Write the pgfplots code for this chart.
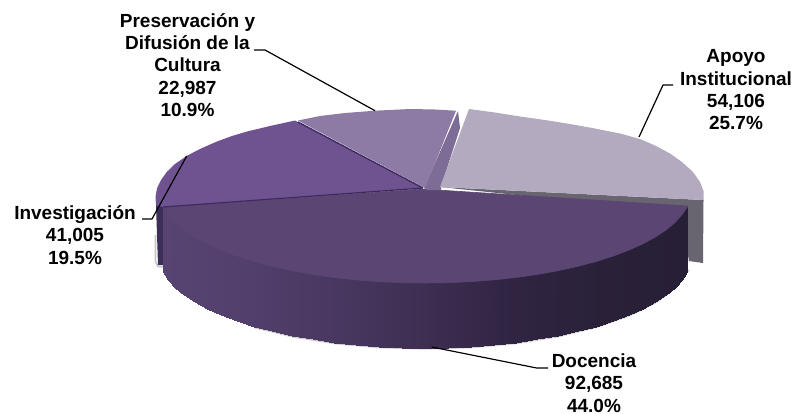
\documentclass[border=0pt]{standalone}
\usepackage{fontspec}
\setmainfont{Liberation Sans}
\usepackage{pgfplots}
\pgfplotsset{compat=1.18}
\definecolor{cDoc}{RGB}{91,70,115}
\definecolor{cInv}{RGB}{111,83,145}
\definecolor{cPre}{RGB}{141,122,165}
\definecolor{cApo}{RGB}{179,170,192}
\definecolor{cGray}{RGB}{104,100,112}
\definecolor{cWallP}{RGB}{125,108,150}
\definecolor{cWallI}{RGB}{60,46,88}
\definecolor{cEdge}{RGB}{62,42,94}
\begin{document}
\begin{tikzpicture}
\begin{axis}[
  at={(0,0)},anchor=south west,
  scale only axis,width=794pt,height=413pt,
  xmin=0,xmax=794,ymin=0,ymax=413,y dir=reverse,
  hide axis,clip=false,
  colormap={sidemap}{rgb255=(88,68,114) rgb255=(82,63,108) rgb255=(72,55,96) rgb255=(62,46,82) rgb255=(48,36,66) rgb255=(42,33,57) rgb255=(39,31,53)},
  point meta min=163,point meta max=687,
  every axis plot/.append style={line join=round}
]
% soft shadows
\addplot[black!22,line width=1.6pt] coordinates {(155.5,235)(155.5,262)(158,266.5)(165,267)};
\addplot[black!20,line width=1.4pt] coordinates {(254,327.5)(292,336.7)(334,343.5)(378.8,347.6)(425,349)(471.2,347.6)(516,343.5)(558,336.7)(596,327.5)(628.8,316.1)(655.4,303)(675,288.5)(689,270)};
% Apoyo walls
\addplot[draw=none,fill=cGray] coordinates {(440,187)(703.5,200)(703,263)(689,261)(680,212)} -- cycle;
% Investigacion wall
\addplot[draw=none,fill=cWallI] coordinates {(156,205)(165,207)(165,265)(158,265)} -- cycle;
% Docencia side
\addplot[surf,shader=interp,mesh/rows=2,point meta=x] table {
x y
163 207
168.1 213.8
175 220.5
183.9 226.9
194.6 233
207.1 239.8
221.2 246.1
236.9 252.1
254 257.5
272.4 262.4
292 266.7
312.6 270.4
334 273.5
356.2 275.9
378.8 277.6
401.8 278.7
425 279
448.2 278.7
471.2 277.6
493.8 275.9
516 273.5
537.4 270.4
558 266.7
577.6 262.4
596 257.5
613.1 252.1
628.8 246.1
642.9 239.8
655.4 233
666.1 226.9
675 220.5
681.9 213.8
687 207
163 272
168.1 279.8
175 287.5
183.9 294.9
194.6 302
207.1 308.8
221.2 315.1
236.9 321.1
254 326.5
272.4 331.4
292 335.7
312.6 339.4
334 342.5
356.2 344.9
378.8 346.6
401.8 347.7
425 348
448.2 347.7
471.2 346.6
493.8 344.9
516 342.5
537.4 339.4
558 335.7
577.6 331.4
596 326.5
613.1 321.1
628.8 315.1
642.9 308.8
655.4 302
666.1 294.9
675 287.5
681.9 279.8
687 272
};
% Docencia top
\addplot[draw=cDoc,line width=0.6pt,fill=cDoc] coordinates {(163,207)(422,189)(688,206)(681.9,214.8)(675,222.5)(666.1,229.9)(655.4,237)(642.9,243.8)(628.8,250.1)(613.1,256.1)(596,261.5)(577.6,266.4)(558,270.7)(537.4,274.4)(516,277.5)(493.8,279.9)(471.2,281.6)(448.2,282.7)(425,283)(401.8,282.7)(378.8,281.6)(356.2,279.9)(334,277.5)(312.6,274.4)(292,270.7)(272.4,266.4)(254,261.5)(236.9,256.1)(221.2,250.1)(207.1,243.8)(194.6,237)(183.9,229.9)(175,222.5)(168.1,214.8)} -- cycle;
% Investigacion top
\addplot[draw=none,fill=cInv] coordinates {(423,188)(295,120.5)(270,126)(247,131.5)(232,136)(217,141.5)(201,148.5)(187,155.7)(175,164)(167,171.7)(161,180)(157,188.3)(155.5,197)(156,205)(163,207)} -- cycle;
\addplot[cEdge,line width=1.2pt] coordinates {(163,207)(423,188)};
% Preservacion wall and top
\addplot[draw=none,fill=cWallP] coordinates {(458,111)(460,128)(441,187)(441,190)(427,190)(424,188)} -- cycle;
\addplot[draw=none,fill=cPre] coordinates {(425,188)(298,120.5)(320,116)(345,113)(375,110.7)(410,109)(435,109.5)(456,110.7)} -- cycle;
\addplot[cEdge,line width=1.4pt] coordinates {(423,188)(298,122)};
% Apoyo top
\addplot[draw=none,fill=cApo] coordinates {(440,187)(469,109)(495,112.5)(520,116.5)(545,120)(570,124)(595,128.5)(620,133.5)(640,139)(655,145.5)(670,153.5)(682,162)(693,172)(700,182)(703.5,191)(703.5,200)} -- cycle;
% Leaders
\addplot[black,line width=1.2pt] coordinates {(254,50)(265,50)(375,110.7)};
\addplot[black,line width=1.2pt] coordinates {(673,85)(663,85)(639,137)};
\addplot[black,line width=1.2pt] coordinates {(142,219)(152,219)(186.7,156)};
\addplot[black,line width=1.2pt] coordinates {(431.7,347)(536.7,368)(548,368)};
\tikzset{lab/.style={align=center,font=\fontsize{19}{22.3}\selectfont\bfseries,inner sep=0pt}}
\node[lab] at (axis cs:187.5,65) {Preservación y\\Difusión de la\\Cultura\\22,987\\10.9\%};
\node[lab] at (axis cs:736,90) {Apoyo\\Institucional\\54,106\\25.7\%};
\node[lab] at (axis cs:75,235) {Investigación\\41,005\\19.5\%};
\node[lab] at (axis cs:594,383) {Docencia\\92,685\\44.0\%};
\end{axis}
\pgfresetboundingbox
\path (0,0) rectangle (794pt,413pt);
\end{tikzpicture}
\end{document}
